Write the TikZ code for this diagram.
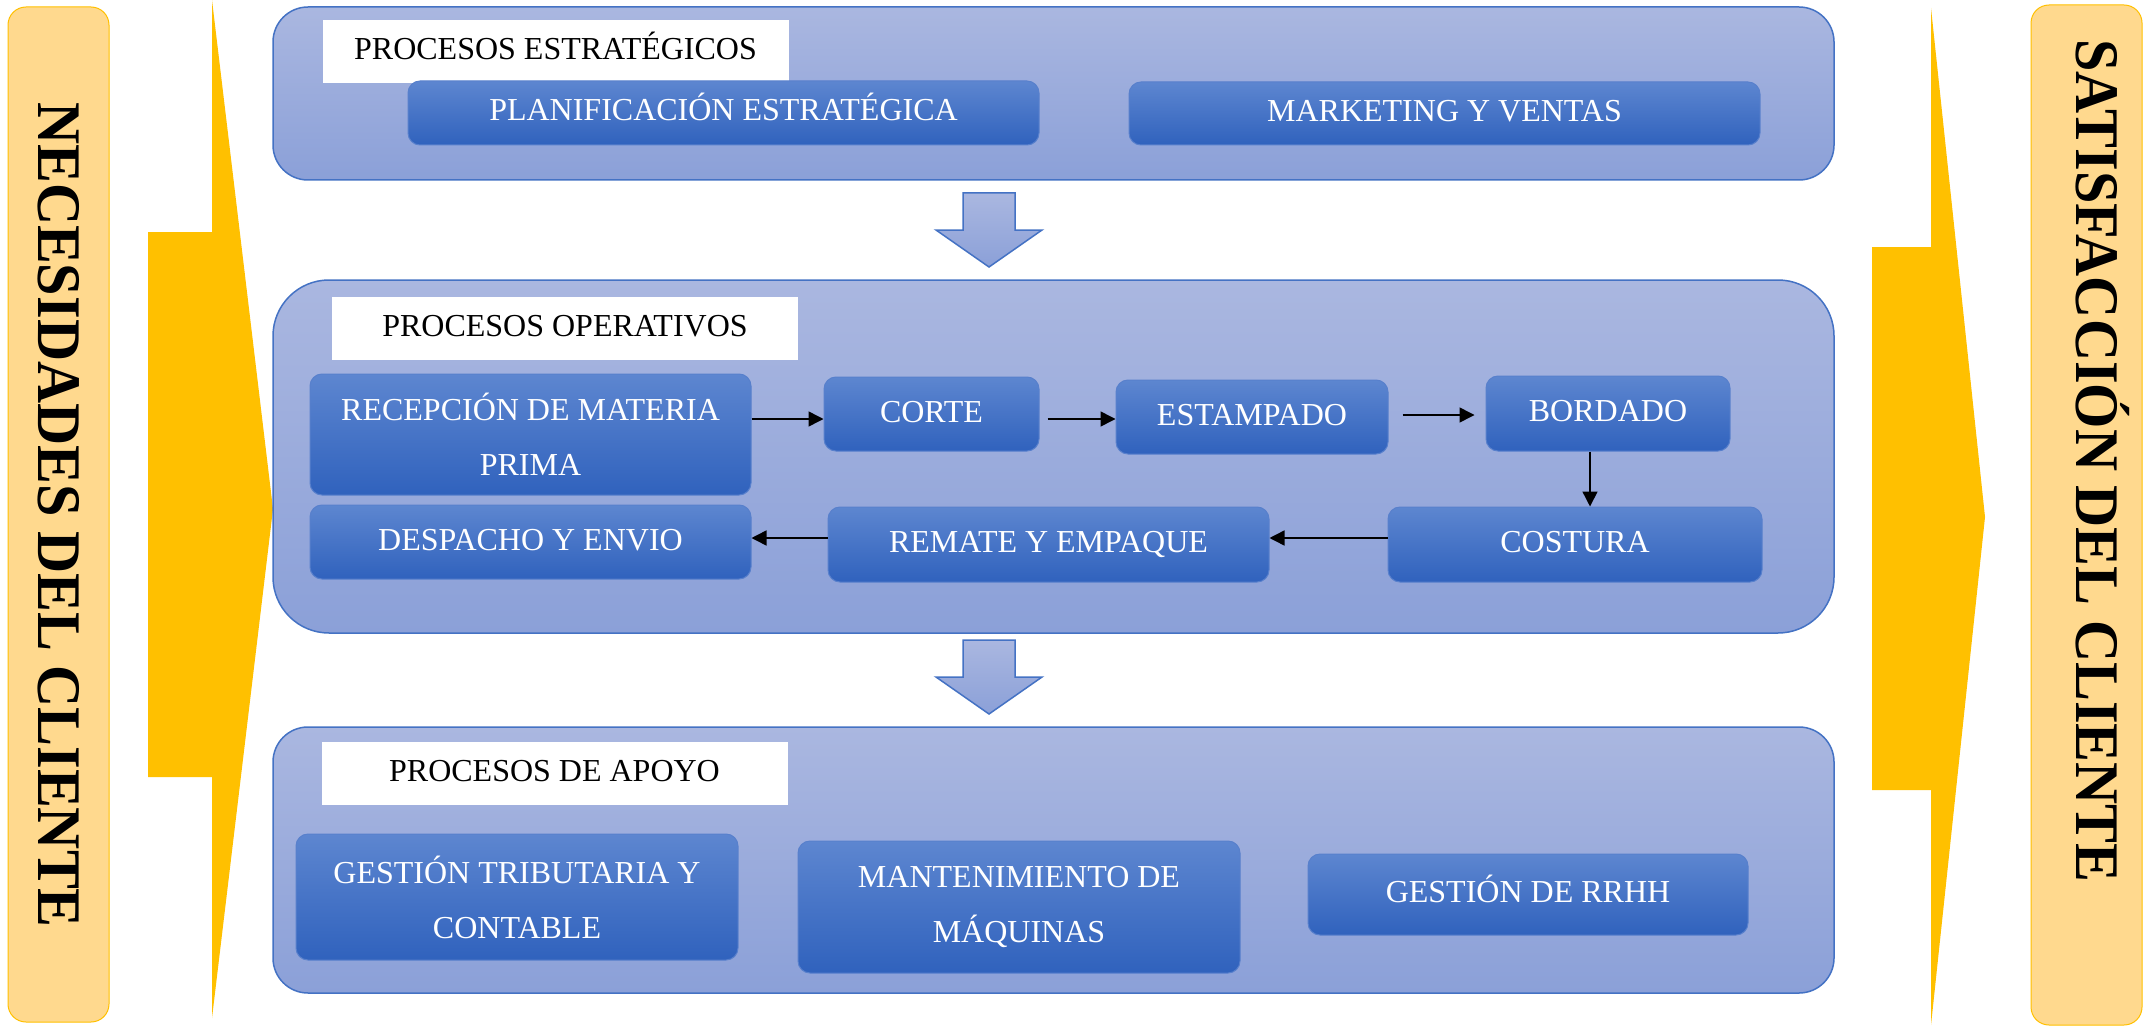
\documentclass[tikz,border=0pt]{standalone}
\usepackage{fontspec}
\setmainfont{Liberation Serif}
\newfontfamily\sidefont[FakeStretch=0.94]{Liberation Serif}
\usetikzlibrary{arrows.meta}

\definecolor{panelTop}{RGB}{170,183,224}
\definecolor{panelBot}{RGB}{139,160,216}
\definecolor{panelLine}{RGB}{68,114,196}
\definecolor{boxTop}{RGB}{93,134,208}
\definecolor{boxBot}{RGB}{48,98,189}
\definecolor{boxLine}{RGB}{88,128,204}
\definecolor{gold}{RGB}{255,192,0}
\definecolor{sand}{RGB}{255,217,142}

\begin{document}
\begin{tikzpicture}[
  x=1pt, y=-1pt,
  panel/.style={draw=panelLine, line width=1.5pt, top color=panelTop, bottom color=panelBot, minimum width=1561pt},
  tag/.style={fill=white, minimum width=466pt, minimum height=63pt, font=\fontsize{32}{38}\selectfont, text height=24pt, text depth=8pt},
  proc/.style={draw=boxLine, line width=1pt, rounded corners=12pt, top color=boxTop, bottom color=boxBot, text=white, font=\fontsize{32}{55}\selectfont, minimum width=441pt},
  single/.style={proc, text height=24pt, text depth=8pt},
  double/.style={proc, align=center},
  flow/.style={-{Triangle[length=15pt,width=15pt]}, line width=1.5pt},
  bigarrow/.style={draw=panelLine, line width=1.5pt, top color=panelTop, bottom color=panelBot},
  side/.style={fill=sand, draw=gold, line width=1pt, rounded corners=18pt},
  sidetext/.style={rotate=-90, font=\sidefont\bfseries\fontsize{62}{70}\selectfont, text height=41pt, text depth=0pt}
]
\path[use as bounding box, fill=white] (0,0) rectangle (2143,1027);

% Flechas laterales
\fill[gold] (148,232) -- (212,232) -- (212,0) -- (273,509) -- (212,1018) -- (212,777) -- (148,777) -- cycle;
\fill[gold] (1872,247) -- (1931,247) -- (1931,8) -- (1985,517) -- (1931,1025) -- (1931,790) -- (1872,790) -- cycle;

% Cliente
\node[side, minimum width=101pt, minimum height=1015pt] (needBox) at (58.5,514.5) {};
\node[sidetext] (need) at (59,515) {NECESIDADES DEL CLIENTE};
\node[side, minimum width=111pt, minimum height=1020pt] (satBox) at (2086.5,515) {};
\node[sidetext] (sat) at (2097,461) {SATISFACCIÓN DEL CLIENTE};

% Paneles
\node[panel, rounded corners=35pt, minimum height=173pt] (estr) at (1053.5,93.5) {};
\node[panel, rounded corners=56pt, minimum height=353pt] (oper) at (1053.5,456.5) {};
\node[panel, rounded corners=35pt, minimum height=266pt] (apoyo) at (1053.5,860) {};

% Flechas entre paneles
\foreach \t in {193,640}
  \draw[bigarrow] (963,\t) -- (1015,\t) -- (1015,\t+37) -- (1042,\t+37) -- (989,\t+74) -- (936,\t+37) -- (963,\t+37) -- cycle;

% Procesos estratégicos
\node[tag] (tagE) at (555.5,51.5) {PROCESOS ESTRATÉGICOS};
\node[single, minimum width=631pt, minimum height=64pt] (plan) at (723.5,113) {PLANIFICACIÓN ESTRATÉGICA};
\node[single, minimum width=631pt, minimum height=63pt] (mkt) at (1444.5,113.5) {MARKETING Y VENTAS};

% Procesos operativos
\node[tag] (tagO) at (565,328.5) {PROCESOS OPERATIVOS};
\node[double, minimum height=121pt] (recep) at (530.5,434.5) {RECEPCIÓN DE MATERIA\\PRIMA};
\node[single, minimum width=215pt, minimum height=74pt] (corte) at (931.5,414) {CORTE};
\node[single, minimum width=272pt, minimum height=74pt] (estamp) at (1252,417) {ESTAMPADO};
\node[single, minimum width=244pt, minimum height=75pt] (bord) at (1608,413.5) {BORDADO};
\node[single, minimum width=374pt, minimum height=75pt] (cost) at (1575,544.5) {COSTURA};
\node[single, minimum height=75pt] (remate) at (1048.5,544.5) {REMATE Y EMPAQUE};
\node[single, minimum height=74pt] (desp) at (530.5,542) {DESPACHO Y ENVIO};

% Flujo
\draw[flow] (recep.east |- 0,419) -- (corte.west |- 0,419);
\draw[flow, shorten <=8pt] (corte.east |- 0,419) -- (estamp.west |- 0,419);
\draw[flow, shorten <=14pt, shorten >=11pt] (estamp.east |- 0,415) -- (bord.west |- 0,415);
\draw[flow] (bord.south -| 1590,0) -- (cost.north -| 1590,0);
\draw[flow] (cost.west |- 0,538) -- (remate.east |- 0,538);
\draw[flow] (remate.west |- 0,538) -- (desp.east |- 0,538);

% Procesos de apoyo
\node[tag] (tagA) at (554.5,773) {PROCESOS DE APOYO};
\node[double, minimum width=442pt, minimum height=126pt] (trib) at (517,897) {GESTIÓN TRIBUTARIA Y\\CONTABLE};
\node[double, minimum width=442pt, minimum height=132pt] (mant) at (1019,907) {MANTENIMIENTO DE\\MÁQUINAS};
\node[single, minimum width=440pt, minimum height=81pt] (rrhh) at (1528,894.5) {GESTIÓN DE RRHH};

\end{tikzpicture}
\end{document}
